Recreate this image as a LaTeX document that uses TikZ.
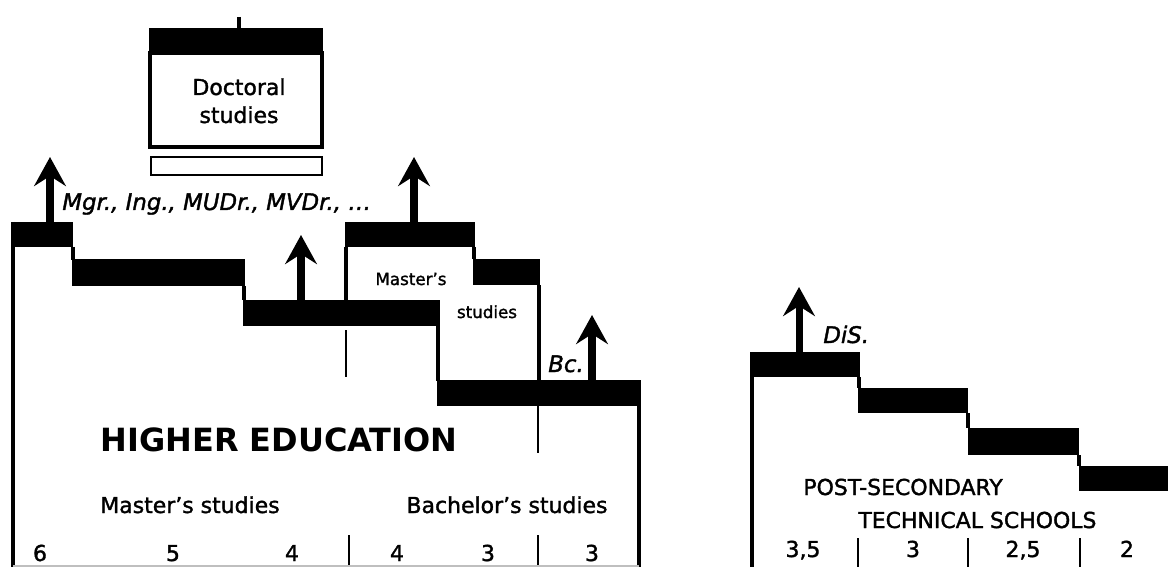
\documentclass[tikz,border=0pt]{standalone}
\usepackage{fontspec}
\setmainfont{DejaVu Sans}
\newfontfamily\medfont{DejaVu Sans}[FakeBold=1.5]
\usetikzlibrary{arrows.meta,positioning}

\tikzset{
  bar/.style={fill=black},
  frame/.style={line width=2pt},
  divider/.style={line width=1.1pt},
  up/.style={line width=4pt,-{Stealth[length=16.5pt,width=18pt,inset=5.7pt]}},
  txt/.style={inner sep=0pt,anchor=base,font=\medfont\fontsize{12.5}{16}\selectfont},
  small/.style={txt,font=\medfont\fontsize{9.5}{11}\selectfont},
  title/.style={txt,font=\fontsize{18.2}{20}\selectfont\bfseries},
  degree/.style={txt,font=\medfont\fontsize{13}{14}\selectfont\itshape},
}

\begin{document}
\begin{tikzpicture}[x=0.02cm,y=-0.02cm]
\useasboundingbox (0,0) rectangle (1168,567);

% doctoral studies
\draw[line width=2.8pt] (239,17) -- (239,29);
\fill[bar] (149,28) rectangle (323,53);
\draw[frame] (150,53) rectangle (322,147);
\draw[line width=1.4pt] (151,157) rectangle (322,175);
\node[txt] (doc) at (239,95) {Doctoral};
\node[txt] (docst) at (239,123) {studies};

% higher education
\fill[bar] (12,222) rectangle (73,247);
\fill[bar] (72,259) rectangle (245,286);
\fill[bar] (243,300) rectangle (440,326);
\fill[bar] (345,222) rectangle (475,247);
\fill[bar] (473,259) rectangle (540,285);
\fill[bar] (437,380) rectangle (641,406);
\draw[frame] (13,222) -- (13,567);
\draw[frame] (73,247) -- (73,260);
\draw[frame] (244,286) -- (244,300);
\draw[frame] (346,247) -- (346,300);
\draw[frame] (474,247) -- (474,259);
\draw[frame] (539,285) -- (539,381);
\draw[frame] (438,326) -- (438,381);
\draw[frame] (639,406) -- (639,567);
\draw[divider] (346,330) -- (346,377);
\draw[divider] (538,406) -- (538,453);
\draw[divider] (349,535) -- (349,567);
\draw[divider] (538,535) -- (538,567);
\draw[gray!50,line width=0.6pt] (13,566) -- (639,566);

\node[degree,anchor=base west] (mgr) at (62,210) {Mgr., Ing., MUDr., MVDr., \dots};
\node[small] (mast) at (411,285) {Master’s};
\node[small] (stud) at (487,318) {studies};
\node[degree] (bc) at (566,372) {Bc.};
\node[title] (he) at (279,451) {HIGHER EDUCATION};
\node[txt] (ms) at (190,513) {Master’s studies};
\node[txt] (bs) at (507,513) {Bachelor’s studies};
\foreach \n/\x [count=\i] in {6/40,5/173,4/292,4/397,3/488,3/592}
  \node[txt] (hy\i) at (\x,561) {\n};

% post-secondary technical schools
\fill[bar] (751,352) rectangle (860,377);
\fill[bar] (858,388) rectangle (968,413);
\fill[bar] (968,428) rectangle (1079,455);
\fill[bar] (1079,466) rectangle (1168,491);
\draw[frame] (752,352) -- (752,567);
\draw[frame] (859,377) -- (859,388);
\draw[frame] (968,413) -- (968,428);
\draw[frame] (1079,455) -- (1079,466);
\foreach \x in {858,968,1080}
  \draw[divider] (\x,538) -- (\x,567);

\node[degree,anchor=base west] (dis) at (823,343) {DiS.};
\node[txt,anchor=base west] (ps) at (803,495) {POST-SECONDARY};
\node[txt,anchor=base west] (ts) at (858,528) {TECHNICAL SCHOOLS};
\foreach \n/\x [count=\i] in {{3,5}/803,3/913,{2,5}/1023,2/1127}
  \node[txt] (py\i) at (\x,557) {\n};

% degrees
\foreach \x/\y [count=\i] in {50/222,301/300,414/222,592/380,799/352}
{
  \coordinate (foot\i) at (\x,\y);
  \coordinate (tip\i) at (\x,\y-65);
  \draw[up] (foot\i) -- (tip\i);
}
\end{tikzpicture}
\end{document}
